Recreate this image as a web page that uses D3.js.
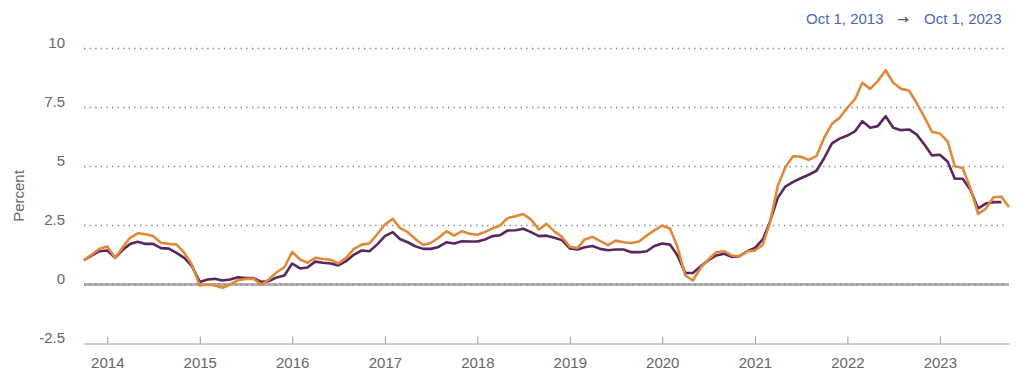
<!DOCTYPE html>
<html lang="en">

<head>
  <meta charset="UTF-8">
  <meta name="viewport" content="width=device-width, initial-scale=1.0">
  <script src="https://cdnjs.cloudflare.com/ajax/libs/d3/7.8.5/d3.min.js"></script>
  <title>Inflation</title>
  <style>
    body { margin: 0; background: #fff; }
    svg { display: block; font-family: "Liberation Sans", Arial, sans-serif; }
  </style>
</head>

<body>
  <script>
    // first month of each series, both monthly
    const startMonth = "2013-10-01";

    // orange series, Oct 2013 .. Oct 2023
    const orangeValues = [
      1.03, 1.27, 1.51,
      1.61, 1.13, 1.55, 1.98, 2.17, 2.13, 2.05, 1.77, 1.72, 1.70, 1.34, 0.85,
      -0.04, 0.0, -0.04, -0.14, 0.0, 0.18, 0.23, 0.25, 0.0, 0.21, 0.52, 0.73,
      1.38, 1.06, 0.92, 1.13, 1.08, 1.05, 0.89, 1.13, 1.51, 1.69, 1.74, 2.12,
      2.54, 2.78, 2.40, 2.22, 1.93, 1.67, 1.76, 1.98, 2.26, 2.07, 2.26, 2.15,
      2.11, 2.23, 2.37, 2.50, 2.82, 2.89, 2.99, 2.75, 2.33, 2.57, 2.25, 2.02,
      1.60, 1.55, 1.91, 2.02, 1.84, 1.67, 1.86, 1.79, 1.76, 1.82, 2.08, 2.29,
      2.50, 2.36, 1.60, 0.38, 0.17, 0.71, 1.06, 1.37, 1.41, 1.23, 1.20, 1.41,
      1.44, 1.69, 2.61, 4.17, 4.97, 5.44, 5.41, 5.28, 5.44, 6.21, 6.81, 7.06,
      7.49, 7.87, 8.55, 8.29, 8.62, 9.08, 8.55, 8.29, 8.22, 7.70, 7.09, 6.47,
      6.40, 6.05, 5.01, 4.94, 4.10, 2.99, 3.21, 3.70, 3.72, 3.28
    ];

    // purple series, Oct 2013 .. Sep 2023
    const purpleValues = [
      1.03, 1.23, 1.41,
      1.44, 1.13, 1.45, 1.72, 1.81, 1.72, 1.72, 1.54, 1.52, 1.34, 1.13, 0.78,
      0.11, 0.21, 0.24, 0.17, 0.21, 0.31, 0.27, 0.27, 0.11, 0.14, 0.30, 0.38,
      0.89, 0.68, 0.72, 0.97, 0.92, 0.89, 0.81, 0.99, 1.27, 1.44, 1.41, 1.69,
      2.05, 2.22, 1.93, 1.79, 1.62, 1.51, 1.51, 1.59, 1.79, 1.74, 1.83, 1.82,
      1.82, 1.91, 2.05, 2.09, 2.29, 2.30, 2.36, 2.22, 2.05, 2.07, 1.98, 1.88,
      1.53, 1.48, 1.58, 1.63, 1.51, 1.45, 1.48, 1.48, 1.37, 1.37, 1.41, 1.63,
      1.74, 1.69, 1.23, 0.49, 0.49, 0.77, 1.03, 1.23, 1.30, 1.17, 1.20, 1.41,
      1.55, 1.91, 2.65, 3.67, 4.15, 4.35, 4.50, 4.65, 4.82, 5.35, 5.98, 6.18,
      6.31, 6.50, 6.92, 6.64, 6.71, 7.13, 6.64, 6.54, 6.57, 6.36, 5.93, 5.47,
      5.50, 5.20, 4.48, 4.48, 4.03, 3.22, 3.43, 3.49, 3.49
    ];

    const yTicks = [-2.5, 0, 2.5, 5, 7.5, 10];
    const yTickLabels = ["-2.5", "0", "2.5", "5", "7.5", "10"];
    const dateRange = ["2013-10-01", "2023-10-01"];
    const rangeLabels = ["Oct 1, 2013", "\u2192", "Oct 1, 2023"];

    const w = 1024;
    const h = 387;

    const parse = d3.timeParse("%Y-%m-%d");
    const t0 = parse(startMonth);
    const toPoints = vals => vals.map((v, i) => ({ date: d3.timeMonth.offset(t0, i), v: v }));

    const svg = d3.select("body")
      .append("svg")
      .attr("width", w)
      .attr("height", h);

    const xScale = d3.scaleTime()
      .domain(dateRange.map(parse))
      .range([84, 1009]);

    const yScale = d3.scaleLinear()
      .domain([-2.5, 10])
      .range([343.5, 48.5]);

    // zero line
    svg.append("line")
      .attr("x1", xScale.range()[0])
      .attr("x2", xScale.range()[1])
      .attr("y1", yScale(0))
      .attr("y2", yScale(0))
      .attr("stroke", "#b3b3b3")
      .attr("stroke-width", 3);

    // dotted grid
    svg.selectAll(".grid")
      .data(yTicks.filter(d => d > -2.5))
      .enter()
      .append("line")
      .attr("class", "grid")
      .attr("x1", xScale.range()[0])
      .attr("x2", xScale.range()[1] - 2)
      .attr("y1", d => yScale(d))
      .attr("y2", d => yScale(d))
      .attr("stroke", "#808080")
      .attr("stroke-width", 1.3)
      .attr("stroke-dasharray", "1.3,4.3");

    svg.selectAll(".ylab")
      .data(yTicks)
      .enter()
      .append("text")
      .attr("class", "ylab")
      .attr("x", 65)
      .attr("y", d => yScale(d) - 1)
      .attr("text-anchor", "end")
      .attr("font-size", 15)
      .attr("fill", "#666")
      .text((d, i) => yTickLabels[i]);

    svg.append("text")
      .attr("transform", "translate(24,196) rotate(-90)")
      .attr("text-anchor", "middle")
      .attr("font-size", 15)
      .attr("fill", "#666")
      .text("Percent");

    const xAxis = d3.axisBottom(xScale)
      .ticks(d3.timeYear.every(1))
      .tickFormat(d3.timeFormat("%Y"))
      .tickSizeInner(-7)
      .tickSizeOuter(0)
      .tickPadding(14);

    const gx = svg.append("g")
      .attr("transform", "translate(0," + yScale(-2.5) + ")")
      .call(xAxis);
    gx.select(".domain").attr("stroke", "#999");
    gx.selectAll(".tick line").attr("stroke", "#999");
    gx.selectAll(".tick text")
      .attr("font-size", 15)
      .attr("font-family", "Liberation Sans, Arial, sans-serif")
      .attr("fill", "#666");

    const line = d3.line()
      .x(d => xScale(d.date))
      .y(d => yScale(d.v));

    svg.append("path")
      .datum(toPoints(purpleValues))
      .attr("fill", "none")
      .attr("stroke", "#58285c")
      .attr("stroke-width", 2.6)
      .attr("stroke-linejoin", "round")
      .attr("d", line);

    svg.append("path")
      .datum(toPoints(orangeValues))
      .attr("fill", "none")
      .attr("stroke", "#e0893a")
      .attr("stroke-width", 2.6)
      .attr("stroke-linejoin", "round")
      .attr("d", line);

    // date range header
    const head = svg.append("text")
      .attr("y", 24)
      .attr("font-size", 15)
      .attr("fill", "#4a68b2");
    head.append("tspan").attr("x", 806).text(rangeLabels[0]);
    head.append("tspan").attr("x", 897).attr("fill", "#555")
      .attr("font-family", "DejaVu Sans").attr("font-size", 14).text(rangeLabels[1]);
    head.append("tspan").attr("x", 924).text(rangeLabels[2]);
  </script>
</body>

</html>
